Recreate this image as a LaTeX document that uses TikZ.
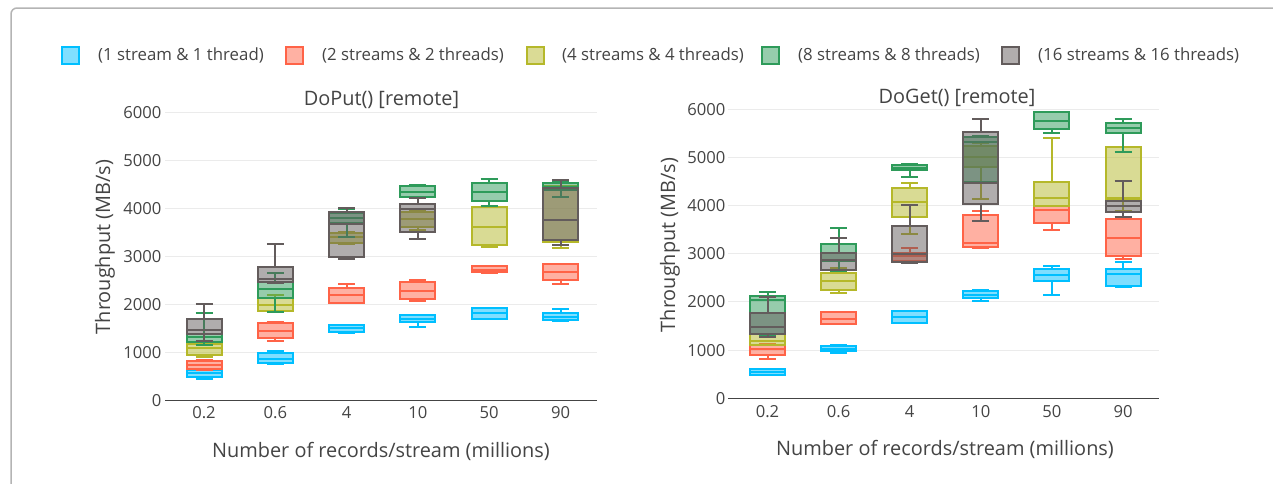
\documentclass[tikz,border=0pt]{standalone}
\usepackage{fontspec}
\setmainfont{Open Sans}
\definecolor{txt}{HTML}{444444}
\definecolor{cA}{HTML}{00BFFF}
\definecolor{cB}{HTML}{FF6347}
\definecolor{cC}{HTML}{B5B82A}
\definecolor{cD}{HTML}{2E9B5A}
\definecolor{cE}{HTML}{635C5C}
\definecolor{gridc}{HTML}{EBEBEB}
\definecolor{framec}{HTML}{B4B4B4}

% chart origin: x of first category, category step, y of zero, px per unit
\newcommand\setchart[4]{\def\cX{#1}\def\cdX{#2}\def\cY{#3}\def\csY{#4}}
% one box: category index, colour, low whisker, q1, median, q3, high whisker
\newcommand\bp[7]{%
  \pgfmathsetmacro\cx{\cX+\cdX*#1}%
  \pgfmathsetmacro\ylo{\cY-\csY*#3}%
  \pgfmathsetmacro\yqa{\cY-\csY*#4}%
  \pgfmathsetmacro\ymd{\cY-\csY*#5}%
  \pgfmathsetmacro\yqb{\cY-\csY*#6}%
  \pgfmathsetmacro\yhi{\cY-\csY*#7}%
  \fill[#2,fill opacity=0.5] (\cx-17.5,\yqa) rectangle (\cx+17.5,\yqb);
  \draw[#2,boxline] (\cx-17.5,\yqa) rectangle (\cx+17.5,\yqb);
  \draw[#2,boxline] (\cx-17.5,\ymd) -- (\cx+17.5,\ymd);
  \draw[#2,boxline] (\cx,\yqa) -- (\cx,\ylo) (\cx-8.5,\ylo) -- (\cx+8.5,\ylo);
  \draw[#2,boxline] (\cx,\yqb) -- (\cx,\yhi) (\cx-8.5,\yhi) -- (\cx+8.5,\yhi);
}

\begin{document}
\begin{tikzpicture}[x=1pt,y=-1pt,
  boxline/.style={line width=2pt},
  tick/.style={text=txt,inner sep=0pt,font=\fontsize{16.6}{18}\selectfont},
  leg/.style={text=txt,inner sep=0pt,anchor=west,font=\fontsize{16.8}{18}\selectfont},
  ttl/.style={text=txt,inner sep=0pt,font=\fontsize{19.9}{22}\selectfont},
  legsq/.style={minimum width=17pt,minimum height=17pt,inner sep=0pt,line width=2pt}]
\useasboundingbox (0,0) rectangle (1273,483);
\fill[white] (0,0) rectangle (1273,483);
% card outline
\draw[framec,line width=1.5pt,rounded corners=6pt] (11,490) -- (11,8) -- (1280,8);

% legend
\node[legsq,draw=cA,fill=cA!50] (s1) at (70,55) {};
\node[leg] (t1) at (98,55) {(1 stream \& 1 thread)};
\node[legsq,draw=cB,fill=cB!50] (s2) at (294,55) {};
\node[leg] (t2) at (322,55) {(2 streams \& 2 threads)};
\node[legsq,draw=cC,fill=cC!50] (s3) at (535,55) {};
\node[leg] (t3) at (562,55) {(4 streams \& 4 threads)};
\node[legsq,draw=cD,fill=cD!50] (s4) at (770,55) {};
\node[leg] (t4) at (798,55) {(8 streams \& 8 threads)};
\node[legsq,draw=cE,fill=cE!50] (s5) at (1010,55) {};
\node[leg] (t5) at (1038,55) {(16 streams \& 16 threads)};

% ---------- DoPut ----------
\setchart{204}{71.3}{400.7}{0.04805}
\foreach \v in {1000,2000,...,6000}{
  \pgfmathsetmacro\yy{400.7-0.04805*\v}
  \draw[gridc,line width=1pt] (165,\yy) -- (597,\yy);}
\foreach \v in {0,1000,...,6000}{
  \pgfmathsetmacro\yy{400.7-0.04805*\v}
  \node[tick,anchor=east] (pl\v) at (161.5,\yy) {\v};}
\foreach \t [count=\k from 0] in {0.2,0.6,4,10,50,90}{
  \pgfmathsetmacro\xx{204+71.3*\k}
  \node[tick] (px\k) at (\xx,413) {\t};}
\node[ttl] (ptitle) at (381.5,100) {DoPut() [remote]};
\node[ttl] (pxt) at (381,451) {Number of records/stream (millions)};
\node[ttl,rotate=90] (pyt) at (105,247) {Throughput (MB/s)};

\bp{0}{cA}{460}{500}{570}{640}{660}
\bp{0}{cB}{640}{670}{745}{830}{850}
\bp{0}{cC}{910}{950}{1090}{1190}{1230}
\bp{0}{cD}{1150}{1230}{1320}{1390}{1830}
\bp{0}{cE}{1250}{1390}{1480}{1710}{2010}
\bp{1}{cA}{770}{780}{870}{985}{1040}
\bp{1}{cB}{1250}{1310}{1460}{1610}{1630}
\bp{1}{cC}{1840}{1860}{1990}{2130}{2200}
\bp{1}{cD}{1840}{2130}{2320}{2480}{2650}
\bp{1}{cE}{2450}{2480}{2530}{2780}{3270}
\bp{2}{cA}{1400}{1440}{1510}{1570}{1580}
\bp{2}{cB}{2030}{2040}{2200}{2340}{2430}
\bp{2}{cC}{3260}{3290}{3410}{3500}{3520}
\bp{2}{cD}{3410}{3690}{3810}{3900}{4000}
\bp{2}{cE}{2950}{3000}{3680}{3930}{4020}
\bp{3}{cA}{1540}{1630}{1710}{1780}{1790}
\bp{3}{cB}{2080}{2110}{2290}{2470}{2510}
\bp{3}{cC}{3560}{3620}{3790}{3930}{3960}
\bp{3}{cD}{4210}{4240}{4350}{4460}{4490}
\bp{3}{cE}{3360}{3520}{3990}{4090}{4210}
\bp{4}{cA}{1700}{1710}{1820}{1920}{1930}
\bp{4}{cB}{2660}{2670}{2730}{2800}{2800}
\bp{4}{cC}{3200}{3250}{3620}{4040}{4060}
\bp{4}{cD}{4060}{4160}{4350}{4540}{4610}
\bp{5}{cA}{1660}{1670}{1750}{1820}{1900}
\bp{5}{cB}{2420}{2510}{2680}{2840}{2840}
\bp{5}{cC}{3170}{3310}{3760}{4470}{4600}
\bp{5}{cD}{4230}{4380}{4450}{4540}{4550}
\bp{5}{cE}{3240}{3340}{3760}{4420}{4600}
\draw[txt,line width=1.5pt] (165,400.7) -- (597,400.7);

% ---------- DoGet ----------
\setchart{767.5}{71.1}{398.3}{0.04817}
\foreach \v in {1000,2000,...,6000}{
  \pgfmathsetmacro\yy{398.3-0.04817*\v}
  \draw[gridc,line width=1pt] (728,\yy) -- (1159,\yy);}
\foreach \v in {0,1000,...,6000}{
  \pgfmathsetmacro\yy{398.3-0.04817*\v}
  \node[tick,anchor=east] (gl\v) at (725.5,\yy) {\v};}
\foreach \t [count=\k from 0] in {0.2,0.6,4,10,50,90}{
  \pgfmathsetmacro\xx{767.5+71.1*\k}
  \node[tick] (gx\k) at (\xx,412) {\t};}
\node[ttl] (gtitle) at (957,98) {DoGet() [remote]};
\node[ttl] (gxt) at (945,449) {Number of records/stream (millions)};
\node[ttl,rotate=90] (gyt) at (670,245) {Throughput (MB/s)};

\bp{0}{cA}{480}{490}{545}{600}{610}
\bp{0}{cB}{820}{890}{1030}{1110}{1120}
\bp{0}{cC}{1100}{1110}{1200}{1330}{1340}
\bp{0}{cD}{1300}{1330}{2040}{2130}{2210}
\bp{0}{cE}{1280}{1330}{1470}{1780}{2100}
\bp{1}{cA}{940}{980}{1030}{1090}{1100}
\bp{1}{cB}{1540}{1550}{1650}{1800}{1800}
\bp{1}{cC}{2190}{2250}{2440}{2600}{2700}
\bp{1}{cD}{2650}{2850}{3020}{3200}{3530}
\bp{1}{cE}{2660}{2660}{2870}{3010}{3320}
\bp{2}{cA}{1560}{1570}{1680}{1810}{1820}
\bp{2}{cB}{2830}{2840}{2950}{3020}{3110}
\bp{2}{cC}{3420}{3770}{4080}{4370}{4460}
\bp{2}{cD}{4590}{4730}{4790}{4840}{4860}
\bp{2}{cE}{2800}{2820}{3000}{3580}{4010}
\bp{3}{cA}{2010}{2080}{2150}{2230}{2240}
\bp{3}{cB}{3130}{3147}{3217}{3805}{3888}
\bp{3}{cC}{4130}{4800}{5000}{5230}{5300}
\bp{3}{cD}{4460}{4480}{5330}{5430}{5440}
\bp{3}{cE}{3690}{4030}{4460}{5535}{5790}
\bp{4}{cA}{2150}{2430}{2560}{2690}{2750}
\bp{4}{cB}{3500}{3640}{3900}{3990}{4000}
\bp{4}{cC}{3990}{4000}{4160}{4480}{5400}
\bp{4}{cD}{5500}{5590}{5760}{5940}{5950}
\bp{5}{cA}{2320}{2330}{2590}{2690}{2820}
\bp{5}{cB}{2890}{2950}{3320}{3720}{3730}
\bp{5}{cC}{3890}{4130}{4150}{5210}{5220}
\bp{5}{cD}{5120}{5510}{5610}{5720}{5790}
\bp{5}{cE}{3770}{3860}{3990}{4100}{4520}
\draw[txt,line width=1.5pt] (728,398.3) -- (1159,398.3);
\end{tikzpicture}
\end{document}
